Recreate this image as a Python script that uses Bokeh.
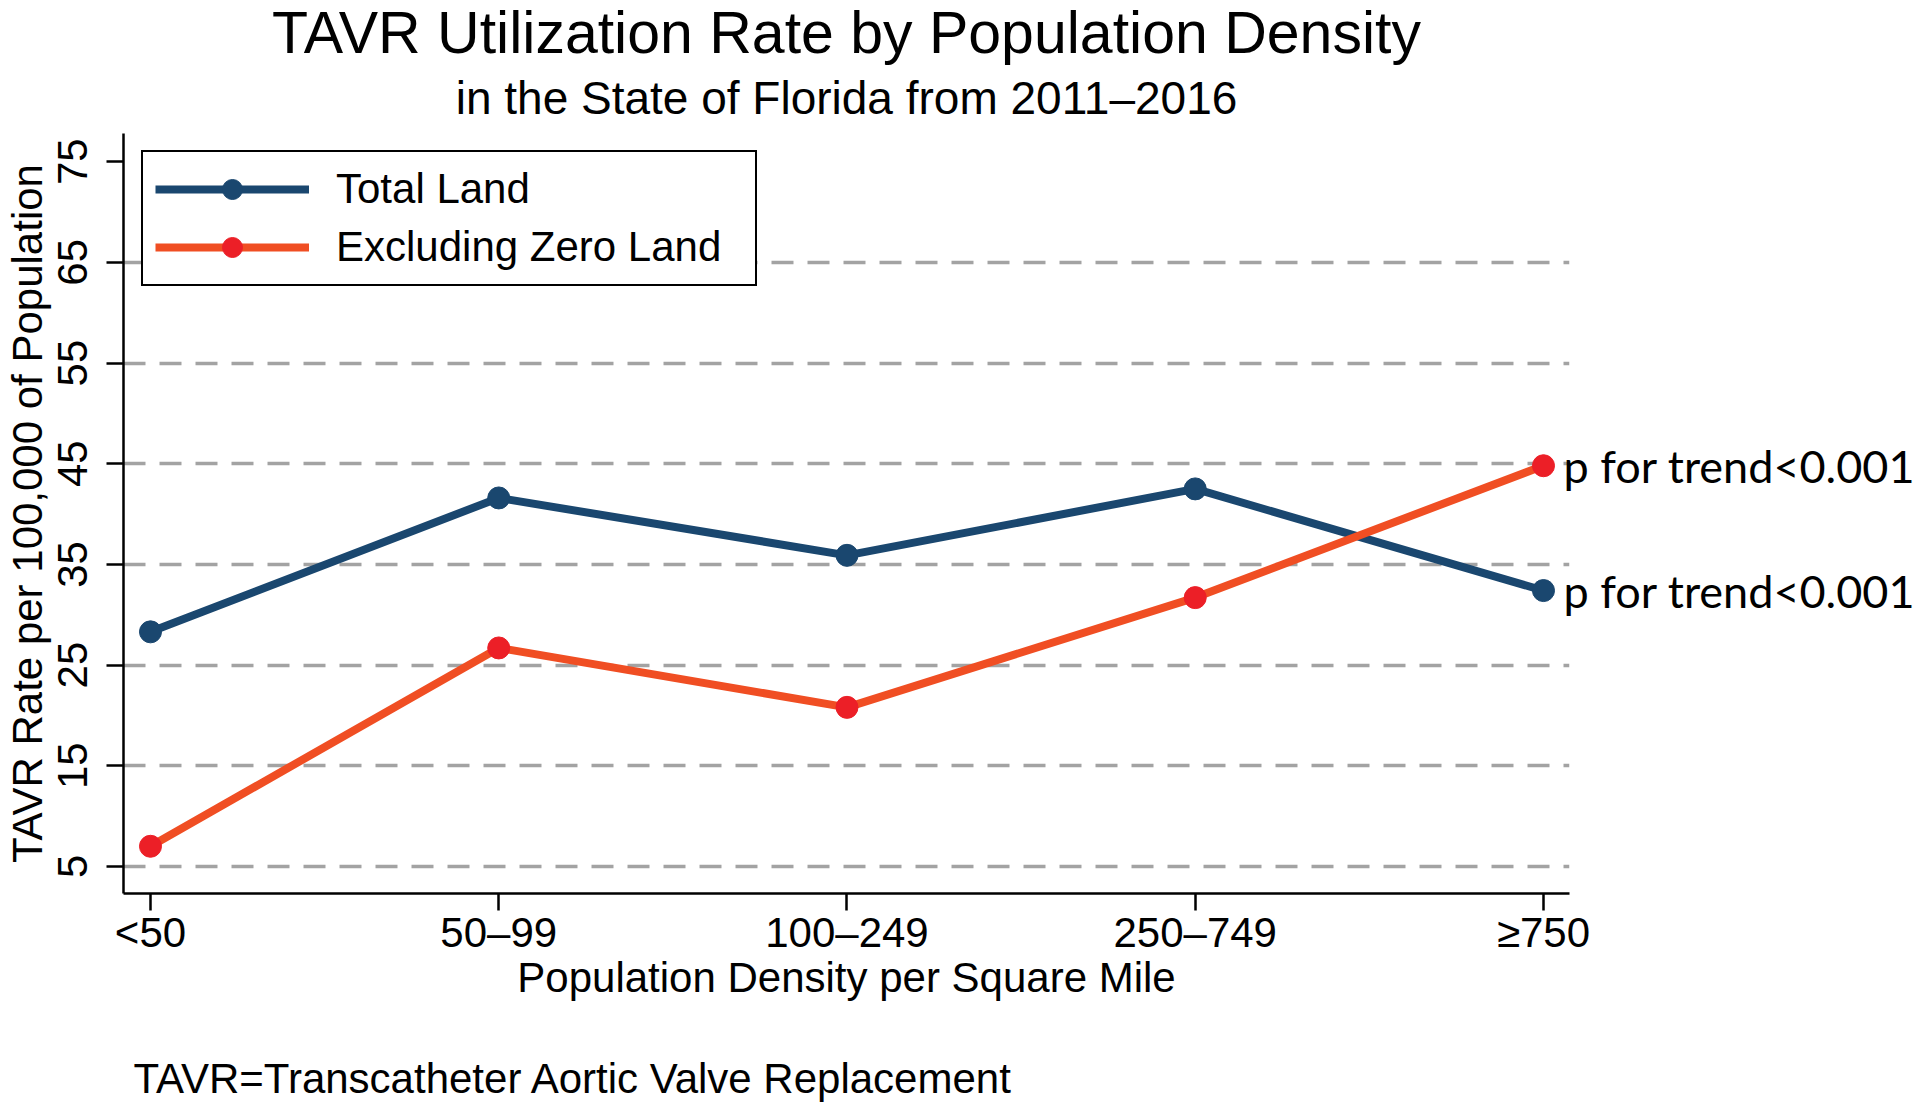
from bokeh.plotting import figure
from bokeh.models import (Range1d, FixedTicker, Legend, LegendItem, LinearAxis, Title)
from bokeh.embed import file_html
from bokeh.resources import INLINE

categories = ["<50", "50\u201399", "100\u2013249", "250\u2013749", "\u2265750"]
total_land = [28.3, 41.6, 35.9, 42.5, 32.4]
excl_zero = [7.0, 26.7, 20.8, 31.7, 44.8]
y_ticks = [5, 15, 25, 35, 45, 55, 65, 75]
grid_ticks = [5, 15, 25, 35, 45, 55, 65]
trend_labels = ["p for trend<0.001", "p for trend<0.001"]

x = list(range(len(categories)))

BLUE = "#1a476f"
ORANGE = "#f04e23"
RED = "#ec1f27"
FONT = "Liberation Sans"

p = figure(width=1920, height=1103, output_backend="svg", toolbar_location=None,
           x_range=Range1d(-0.0775, 4.0747), y_range=Range1d(2.31, 77.8),
           min_border_left=123, min_border_right=351, min_border_top=133,
           min_border_bottom=210)
p.outline_line_color = None
p.background_fill_color = "white"
p.border_fill_color = "white"

# axes
p.xaxis.ticker = FixedTicker(ticks=x)
p.xaxis.major_label_overrides = {i: c for i, c in zip(x, categories)}
p.yaxis.ticker = FixedTicker(ticks=y_ticks)
for ax in (p.xaxis[0], p.yaxis[0]):
    ax.axis_line_color = "black"
    ax.axis_line_width = 2.5
    ax.major_tick_line_color = "black"
    ax.major_tick_line_width = 2.5
    ax.minor_tick_line_color = None
    ax.major_tick_in = 0
    ax.major_label_text_font = FONT
    ax.major_label_text_font_size = "42px"
    ax.major_label_text_color = "black"
    ax.axis_label_text_font = FONT
    ax.axis_label_text_font_size = "42px"
    ax.axis_label_text_font_style = "normal"
    ax.axis_label_text_color = "black"
p.xaxis.major_tick_out = 17
p.yaxis.major_tick_out = 17
p.xaxis.major_label_standoff = -2
p.yaxis.major_label_standoff = 19
p.yaxis.major_label_orientation = "vertical"
p.xaxis.axis_label = "Population Density per Square Mile"
p.yaxis.axis_label = "TAVR Rate per 100,000 of Population"
p.xaxis.axis_label_standoff = -5
p.yaxis.axis_label_standoff = 5

p.xgrid.grid_line_color = None
p.ygrid.ticker = FixedTicker(ticks=grid_ticks)
p.ygrid.grid_line_color = "#a3a3a3"
p.ygrid.grid_line_width = 3.5
p.ygrid.grid_line_dash = "22 14"

# right-side annotations for trend p-values, placed at the last data points
rax = LinearAxis(ticker=FixedTicker(ticks=[excl_zero[-1], total_land[-1]]),
                 major_label_overrides={excl_zero[-1]: trend_labels[0],
                                        total_land[-1]: trend_labels[1]})
rax.axis_line_color = None
rax.major_tick_line_color = None
rax.minor_tick_line_color = None
rax.major_tick_out = 0
rax.major_tick_in = 0
rax.major_label_standoff = -6
rax.major_label_text_font = "Lato"
rax.major_label_text_font_size = "45px"
rax.major_label_text_color = "black"
p.add_layout(rax, "right")

# invisible spacer axis between the x axis and the footnote
spacer = LinearAxis(ticker=FixedTicker(ticks=[x[0]]))
spacer.axis_line_color = None
spacer.major_tick_line_color = "white"
spacer.minor_tick_line_color = None
spacer.major_label_text_font_size = "0px"
spacer.major_label_text_color = "white"
spacer.major_label_overrides = {x[0]: " "}
spacer.major_label_standoff = 0
spacer.major_tick_in = 0
spacer.major_tick_out = 49
p.add_layout(spacer, "below")

# data
l1 = p.line(x, total_land, line_color=BLUE, line_width=8)
s1 = p.scatter(x, total_land, size=22, fill_color=BLUE, line_color=BLUE)
l2 = p.line(x, excl_zero, line_color=ORANGE, line_width=8)
s2 = p.scatter(x, excl_zero, size=22, fill_color=RED, line_color=RED)

legend = Legend(items=[LegendItem(label="Total Land", renderers=[l1, s1]),
                       LegendItem(label="Excluding Zero Land", renderers=[l2, s2])],
                location=(18, 607), orientation="vertical")
legend.border_line_color = "black"
legend.border_line_alpha = 1
legend.border_line_width = 2.5
legend.background_fill_color = "white"
legend.background_fill_alpha = 1
legend.label_text_font = FONT
legend.label_text_font_size = "42px"
legend.label_text_color = "black"
legend.glyph_width = 154
legend.glyph_height = 50
legend.label_height = 50
legend.label_standoff = 27
legend.label_width = 407
legend.padding = 12
legend.spacing = 8
legend.margin = 0
p.add_layout(legend, "center")

# titles
p.add_layout(Title(text="in the State of Florida from 2011\u20132016", align="center",
                   text_font=FONT, text_font_size="46px", text_font_style="normal",
                   text_color="black", standoff=20), "above")
p.add_layout(Title(text="TAVR Utilization Rate by Population Density", align="center",
                   text_font=FONT, text_font_size="59px", text_font_style="normal",
                   text_color="black", standoff=-13), "above")
p.add_layout(Title(text="TAVR=Transcatheter Aortic Valve Replacement", align="left",
                   offset=10, text_font=FONT, text_font_size="42px",
                   text_font_style="normal", text_color="black", standoff=0), "below")

open("out.html", "w").write(file_html(p, INLINE))
